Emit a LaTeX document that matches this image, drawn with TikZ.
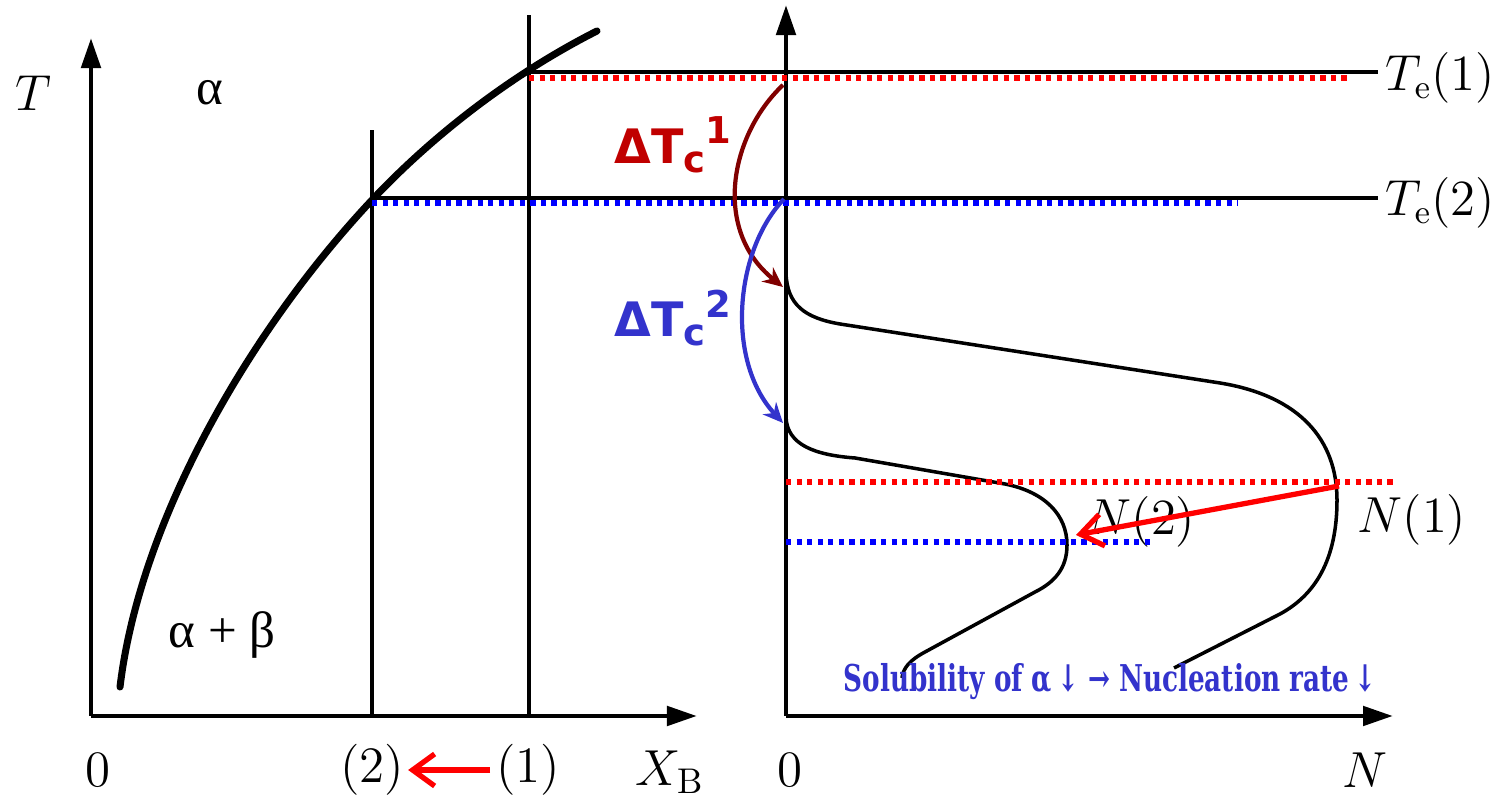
\documentclass[tikz,border=0pt]{standalone}
\usepackage{fontspec}
\usepackage{xcolor}
\usepackage{graphicx}
\usetikzlibrary{arrows.meta}
\newfontfamily\greekfont{Liberation Serif}
\newfontfamily\dtfont{DejaVu Sans}
\newfontfamily\notefont{DejaVu Serif Condensed}
\definecolor{dtred}{HTML}{C00000}
\definecolor{dkred}{HTML}{800000}
\definecolor{dtblue}{HTML}{3333CC}

\begin{document}
\begin{tikzpicture}[
  x=0.01cm,
  y=-0.01cm,
  axis/.style={line width=1.4pt, -{Triangle[length=3mm,width=1.9mm]}},
  guide/.style={line width=1.1pt},
  solvus/.style={line width=2pt, line cap=round},
  rate/.style={line width=1pt},
  reddots/.style={red, line width=1.6pt, dash pattern=on 1.5pt off 1.5pt},
  bluedots/.style={blue, line width=1.6pt, dash pattern=on 1.5pt off 1.5pt},
  txt/.style={font=\fontsize{14.5}{17}\selectfont, inner sep=0pt},
  dtlabel/.style={font=\dtfont\bfseries\fontsize{13.5}{16}\selectfont, inner sep=0pt},
  note/.style={font=\notefont\bfseries\fontsize{10.5}{12}\selectfont, text=dtblue, inner sep=0pt},
  movearrow/.style={red, line width=1.5pt, -{Straight Barb[length=2.2mm,width=3.2mm]}},
  undercool/.style={line width=1.2pt, -{Stealth[length=2mm,width=1.8mm]}}
]
\useasboundingbox (0,0) rectangle (1491,798);

% phase diagram axes
\draw[axis] (91,716) -- (91,38);
\draw[axis] (91,716) -- (697,716);
\node[txt] (lblT) at (33,93) {$T$};
\node[txt] (lblalpha) at (210,93) {\greekfont α};
\node[txt] (lblab) at (222,635) {\greekfont α + β};

% compositions (1) and (2)
\draw[guide] (372,716) -- (372,130);
\draw[guide] (529,716) -- (529,15);

% solvus
\draw[solvus] (120,687) .. controls (140,520) and (250,330) .. (372,200)
  .. controls (440,128) and (520,70) .. (597,31);

% equilibrium temperatures
\draw[guide] (529,72) -- (1378,72);
\draw[guide] (372,198) -- (1378,198);
\node[txt, font=\fontsize{13.5}{16}\selectfont, anchor=west] (te1) at (1385,78) {$T_{\mathrm{e}}(1)$};
\node[txt, font=\fontsize{13.5}{16}\selectfont, anchor=west] (te2) at (1385,203) {$T_{\mathrm{e}}(2)$};

% nucleation rate axes
\draw[axis] (786,716) -- (786,5);
\draw[axis] (786,716) -- (1393,716);

% N(1) and N(2)
\draw[rate] (786,273) .. controls (787,305) and (805,318) .. (840,324)
  -- (1220,383) .. controls (1300,396) and (1337,440) .. (1337,500)
  .. controls (1337,560) and (1315,595) .. (1280,614) -- (1174,668);
\draw[rate] (786,417) .. controls (787,445) and (815,455) .. (855,458)
  -- (1005,484) .. controls (1045,492) and (1067,515) .. (1067,545)
  .. controls (1067,568) and (1055,582) .. (1035,592) -- (925,652)
  .. controls (910,660) and (903,668) .. (902,678);
\node[txt] (lblN2) at (1141,522) {$N(2)$};
\node[txt] (lblN1) at (1412,520) {$N(1)$};

% dotted markers
\draw[reddots] (529,78) -- (1350,78);
\draw[bluedots] (372,203) -- (1238,203);
\draw[reddots] (786,482) -- (1395,482);
\draw[bluedots] (786,542) -- (1150,542);

% undercooling arrows
\coordinate (te1top) at (783,85);
\coordinate (n1start) at (783,287);
\coordinate (te2top) at (784,199);
\coordinate (n2start) at (783,423);
\draw[undercool, dkred] (te1top) .. controls (730,135) and (712,230) .. (n1start);
\draw[undercool, dtblue] (te2top) .. controls (735,250) and (725,360) .. (n2start);
\node[dtlabel, text=dtred] (dt1) at (673,145) {ΔT\raisebox{-0.35ex}{\fontsize{10.5}{12}\selectfont c}\raisebox{0.75ex}{\fontsize{10.5}{12}\selectfont 1}};
\node[dtlabel, text=dtblue] (dt2) at (673,318) {ΔT\raisebox{-0.35ex}{\fontsize{10.5}{12}\selectfont c}\raisebox{0.75ex}{\fontsize{10.5}{12}\selectfont 2}};

% peak shift
\coordinate (n1peak) at (1339,486);
\coordinate (n2peak) at (1076,535);
\draw[movearrow] (n1peak) -- (n2peak);

% bottom labels
\node[txt] (zeroL) at (98,770) {0};
\node[txt] (comp2) at (372,770) {(2)};
\node[txt] (comp1) at (528,770) {(1)};
\node[txt] (lblXB) at (670,772) {$X_{\mathrm{B}}$};
\node[txt] (zeroR) at (790,770) {0};
\node[txt] (lblN) at (1365,770) {$N$};
\draw[movearrow] ([xshift=-1.5pt]comp1.west) -- ([xshift=1pt]comp2.east);

\node[note] (solnote) at (1110,682) {\scalebox{0.79}[1]{Solubility of α\,↓ → Nucleation rate\,↓}};
\end{tikzpicture}
\end{document}
